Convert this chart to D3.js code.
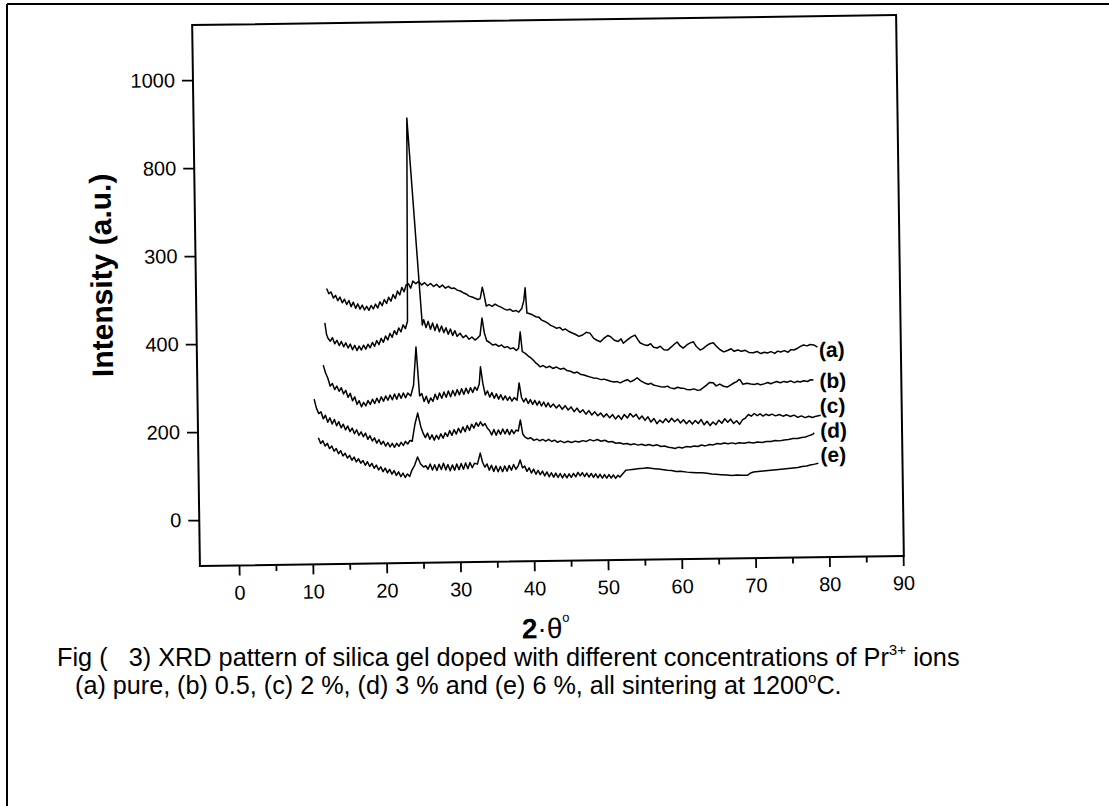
<!DOCTYPE html>
<html><head><meta charset="utf-8">
<script src="https://cdn.jsdelivr.net/npm/d3@7"></script>
<style>body{margin:0;background:#fff}svg{display:block}</style>
</head><body>
<svg id="chart" width="1109" height="806"></svg>
<script>
// ---------- data ----------
const xMajorTicks = [0,10,20,30,40,50,60,70,80,90];
const xMinorTicks = [5,15,25,35,45,55,65,75,85];
const yTickValues = [0,200,400,600,800,1000];
const yTickLabels = ["0","200","400","300","800","1000"];
const seriesNames = ["(a)","(b)","(c)","(d)","(e)"];

const seriesA = [[12.4,522],[12.7,510],[13.0,514],[13.3,500],[13.6,506],[13.9,494],[14.2,502],[14.5,489],[14.8,497],[15.1,485],[15.4,494],[15.7,480],[16.0,490],[16.3,476],[16.6,486],[16.9,474],[17.2,483],[17.5,472],[17.8,480],[18.1,471],[18.4,482],[18.7,474],[19.0,485],[19.3,476],[19.6,490],[19.9,481],[20.2,495],[20.5,486],[20.8,500],[21.1,491],[21.4,506],[21.7,497],[22.0,514],[22.3,505],[22.6,522],[22.9,512],[23.2,528],[23.5,530],[23.8,520],[24.1,536],[24.5,530],[24.9,535],[25.3,527],[25.7,532],[26.1,525],[26.5,530],[26.9,523],[27.3,528],[27.7,521],[28.1,526],[28.5,519],[28.9,523],[29.3,518],[29.7,519],[30.1,514],[30.5,512],[30.9,508],[31.3,505],[31.7,500],[32.1,498],[32.5,495],[32.9,492],[33.2,494],[33.5,520],[33.7,505],[34.0,477],[34.4,480],[34.8,476],[35.2,481],[35.6,477],[36.0,474],[36.4,470],[36.8,467],[37.2,469],[37.6,464],[38.0,466],[38.4,462],[38.8,470],[39.1,488],[39.3,517],[39.5,460],[39.9,458],[40.3,455],[40.7,451],[41.1,450],[41.5,443],[41.9,440],[42.3,436],[42.7,431],[43.1,428],[43.5,424],[43.9,426],[44.3,420],[44.7,422],[45.1,417],[45.6,413],[46.0,410],[46.5,405],[47.0,408],[47.5,414],[48.0,412],[48.5,400],[49.0,395],[49.4,392],[49.9,400],[50.4,406],[50.8,403],[51.3,395],[51.8,392],[52.2,398],[52.5,388],[53.0,395],[53.6,402],[54.1,406],[54.5,395],[54.8,388],[55.3,384],[55.8,382],[56.2,386],[56.6,378],[57.1,376],[57.5,380],[58.0,372],[58.5,371],[59.0,378],[59.4,384],[59.8,389],[60.2,380],[60.6,375],[61.1,382],[61.5,386],[62.0,389],[62.4,378],[62.9,370],[63.3,373],[63.8,380],[64.2,384],[64.7,386],[65.1,378],[65.6,370],[66.1,365],[66.6,368],[67.1,372],[67.5,366],[68.0,369],[68.5,366],[69.0,368],[69.5,363],[70.1,362],[70.6,365],[71.1,360],[71.6,363],[72.0,361],[72.5,364],[73.0,360],[73.4,365],[73.8,363],[74.3,366],[74.8,362],[75.2,368],[75.6,367],[76.1,371],[76.5,375],[76.9,378],[77.4,376],[77.8,379],[78.3,378],[78.8,373]];

const seriesB = [[12.1,444],[12.3,418],[12.5,409],[12.8,402],[13.1,410],[13.4,396],[13.7,404],[14.0,392],[14.3,401],[14.6,389],[14.9,398],[15.2,386],[15.5,395],[15.8,382],[16.1,392],[16.4,380],[16.7,390],[17.0,381],[17.3,392],[17.6,383],[17.9,394],[18.2,386],[18.5,398],[18.8,389],[19.1,402],[19.4,393],[19.7,407],[20.0,398],[20.3,412],[20.6,403],[20.9,418],[21.2,409],[21.5,424],[21.8,415],[22.1,430],[22.4,421],[22.7,437],[23.0,428],[23.3,445],[23.6,907],[25.3,436],[25.5,448],[25.8,430],[26.1,444],[26.4,426],[26.7,440],[27.0,423],[27.3,437],[27.6,420],[27.9,433],[28.2,418],[28.5,429],[28.8,414],[29.1,426],[29.4,411],[29.7,422],[30.0,409],[30.4,416],[30.8,406],[31.2,411],[31.6,402],[32.0,407],[32.4,400],[32.8,405],[33.1,410],[33.4,450],[33.7,415],[34.0,398],[34.4,394],[34.8,388],[35.2,390],[35.6,385],[36.0,388],[36.4,382],[36.8,384],[37.2,379],[37.6,381],[38.0,375],[38.3,380],[38.55,417],[38.8,372],[39.2,368],[39.6,362],[40.0,357],[40.3,352],[40.6,346],[40.9,342],[41.2,337],[41.6,340],[42.0,335],[42.5,338],[42.9,333],[43.4,336],[43.9,331],[44.4,333],[44.8,328],[45.3,326],[45.8,322],[46.2,324],[46.6,319],[47.1,317],[47.6,314],[48.0,312],[48.4,310],[48.9,309],[49.4,306],[49.8,307],[50.2,305],[50.7,302],[51.2,300],[51.6,301],[52.0,298],[52.5,302],[53.0,305],[53.4,300],[53.9,304],[54.3,309],[54.8,302],[55.3,297],[55.8,294],[56.2,296],[56.5,292],[57.0,290],[57.5,288],[58.0,287],[58.4,289],[58.8,285],[59.3,283],[59.8,286],[60.2,284],[60.5,284],[61.0,281],[61.5,280],[62.0,282],[62.4,279],[62.8,279],[63.3,285],[63.7,290],[64.1,296],[64.6,295],[65.0,288],[65.5,292],[66.0,287],[66.5,285],[67.0,290],[67.4,294],[67.8,297],[68.1,302],[68.3,300],[68.6,291],[69.2,293],[69.7,291],[70.2,290],[70.6,292],[71.0,289],[71.5,291],[72.0,294],[72.4,291],[72.7,293],[73.2,296],[73.7,293],[74.2,296],[74.6,294],[75.1,297],[75.6,293],[76.0,296],[76.4,294],[76.9,297],[77.4,295],[77.8,299],[78.2,298]];

const seriesC = [[11.8,348],[12.1,330],[12.4,318],[12.7,300],[13.0,306],[13.3,292],[13.6,300],[13.9,288],[14.2,296],[14.5,282],[14.8,290],[15.1,274],[15.4,283],[15.7,266],[16.0,275],[16.3,258],[16.6,266],[16.9,252],[17.2,262],[17.5,254],[17.8,266],[18.1,257],[18.4,269],[18.7,259],[19.0,271],[19.3,261],[19.6,274],[19.9,264],[20.2,276],[20.5,266],[20.8,278],[21.1,267],[21.4,280],[21.7,268],[22.0,281],[22.3,270],[22.6,282],[22.9,271],[23.2,282],[23.6,275],[24.0,300],[24.4,386],[24.8,275],[25.1,280],[25.4,262],[25.7,274],[26.0,258],[26.3,270],[26.6,262],[26.9,278],[27.2,266],[27.5,281],[27.8,269],[28.1,283],[28.4,271],[28.7,285],[29.0,272],[29.3,286],[29.6,274],[29.9,288],[30.2,276],[30.5,290],[30.8,277],[31.1,291],[31.4,279],[31.7,292],[32.0,281],[32.3,293],[32.6,286],[32.9,300],[33.1,339],[33.4,300],[33.7,275],[34.0,284],[34.3,270],[34.6,280],[34.9,267],[35.2,277],[35.5,265],[35.8,275],[36.1,263],[36.4,272],[36.7,262],[37.0,270],[37.3,260],[37.6,268],[38.0,262],[38.3,301],[38.6,268],[38.9,258],[39.2,266],[39.5,254],[39.8,263],[40.1,252],[40.4,261],[40.7,250],[41.0,259],[41.3,248],[41.6,257],[41.9,246],[42.2,255],[42.5,245],[42.9,252],[43.3,243],[43.7,250],[44.1,240],[44.5,248],[44.9,238],[45.3,245],[45.7,234],[46.1,242],[46.5,232],[46.9,238],[47.3,228],[47.7,236],[48.1,226],[48.5,233],[48.9,224],[49.3,230],[49.7,221],[50.1,228],[50.5,219],[50.9,226],[51.3,216],[51.7,224],[52.1,215],[52.5,226],[52.9,218],[53.3,228],[53.7,220],[54.1,226],[54.5,215],[54.9,222],[55.3,212],[55.7,220],[56.1,208],[56.5,216],[56.9,204],[57.3,212],[57.7,206],[58.1,215],[58.5,207],[58.9,216],[59.3,208],[59.7,214],[60.1,205],[60.5,212],[60.9,203],[61.3,210],[61.7,202],[62.1,210],[62.5,203],[62.9,212],[63.3,200],[63.7,208],[64.1,198],[64.5,206],[64.9,200],[65.3,210],[65.7,203],[66.1,213],[66.5,205],[66.9,212],[67.3,202],[67.7,208],[68.1,200],[68.5,210],[68.9,214],[69.3,222],[69.7,218],[70.1,224],[70.5,219],[70.9,223],[71.3,218],[71.7,222],[72.1,219],[72.5,222],[73.0,218],[73.5,221],[74.0,217],[74.5,220],[75.0,216],[75.5,219],[76.0,214],[76.5,217],[77.0,213],[77.5,216],[78.0,213],[78.5,216],[79.1,218]];

const seriesD = [[10.5,271],[10.8,250],[11.1,238],[11.4,242],[11.7,226],[12.0,234],[12.3,218],[12.6,228],[12.9,214],[13.2,224],[13.5,210],[13.8,219],[14.1,205],[14.4,213],[14.7,200],[15.0,209],[15.3,196],[15.6,204],[15.9,191],[16.2,200],[16.5,187],[16.8,195],[17.1,184],[17.4,192],[17.7,178],[18.0,186],[18.3,174],[18.6,181],[18.9,169],[19.2,177],[19.5,166],[19.8,173],[20.1,162],[20.4,170],[20.7,160],[21.0,168],[21.3,159],[21.6,168],[21.9,161],[22.2,170],[22.5,163],[22.8,172],[23.1,166],[23.4,174],[23.7,172],[24.1,210],[24.5,236],[24.9,205],[25.2,190],[25.5,180],[25.8,190],[26.1,176],[26.4,186],[26.7,174],[27.0,185],[27.3,176],[27.6,188],[27.9,178],[28.2,190],[28.5,182],[28.8,195],[29.1,184],[29.4,197],[29.7,187],[30.0,200],[30.3,190],[30.6,203],[30.9,192],[31.2,206],[31.5,195],[31.8,209],[32.1,200],[32.4,212],[32.7,204],[33.0,214],[33.3,205],[33.6,210],[33.9,200],[34.2,194],[34.5,184],[34.8,196],[35.1,183],[35.4,195],[35.7,185],[36.0,197],[36.3,186],[36.6,196],[36.9,184],[37.2,195],[37.5,186],[37.8,194],[38.1,192],[38.4,217],[38.7,185],[39.0,178],[39.4,174],[39.8,176],[40.2,170],[40.6,173],[41.0,169],[41.4,172],[41.8,168],[42.2,172],[42.6,167],[43.0,170],[43.4,165],[43.8,168],[44.3,164],[44.8,167],[45.3,164],[45.8,167],[46.3,165],[46.8,168],[47.3,166],[47.8,170],[48.3,167],[48.8,170],[49.3,166],[49.8,168],[50.3,164],[50.8,165],[51.3,161],[51.8,162],[52.3,159],[52.8,160],[53.3,157],[53.8,159],[54.3,156],[54.8,158],[55.3,155],[55.8,157],[56.3,154],[56.9,156],[57.4,152],[57.9,153],[58.4,150],[58.9,149],[59.3,147],[59.8,150],[60.3,148],[60.8,151],[61.4,150],[61.9,152],[62.4,151],[62.9,154],[63.4,152],[64.0,155],[64.5,154],[65.0,157],[65.5,156],[66.0,158],[66.5,156],[67.0,158],[67.5,156],[68.0,158],[68.7,157],[69.3,159],[69.9,157],[70.5,159],[71.1,158],[71.7,160],[72.3,160],[72.9,162],[73.5,161],[74.1,163],[74.7,164],[75.3,166],[75.9,166],[76.5,168],[77.0,169],[77.5,172],[78.0,175],[78.2,178]];

const seriesE = [[11.0,183],[11.3,170],[11.6,176],[11.9,164],[12.2,170],[12.5,158],[12.8,164],[13.1,152],[13.4,158],[13.7,146],[14.0,153],[14.3,141],[14.6,147],[14.9,136],[15.2,142],[15.5,131],[15.8,138],[16.1,127],[16.4,134],[16.7,124],[17.0,130],[17.3,119],[17.6,127],[17.9,116],[18.2,123],[18.5,112],[18.8,119],[19.1,108],[19.4,115],[19.7,104],[20.0,112],[20.3,101],[20.6,109],[20.9,98],[21.2,106],[21.5,95],[21.8,103],[22.1,92],[22.4,100],[22.7,90],[23.0,98],[23.3,92],[23.6,106],[24.0,118],[24.4,136],[24.8,120],[25.2,113],[25.5,116],[25.8,108],[26.1,120],[26.4,106],[26.7,118],[27.0,105],[27.3,119],[27.6,107],[27.9,121],[28.2,106],[28.5,118],[28.8,104],[29.1,117],[29.4,105],[29.7,119],[30.0,106],[30.3,120],[30.6,107],[30.9,121],[31.2,108],[31.5,122],[31.8,110],[32.1,120],[32.5,118],[32.9,143],[33.2,122],[33.5,111],[33.8,118],[34.1,104],[34.4,115],[34.7,101],[35.0,113],[35.3,100],[35.6,112],[35.9,100],[36.2,113],[36.5,101],[36.8,114],[37.1,103],[37.4,116],[37.7,105],[38.0,112],[38.3,126],[38.6,108],[38.9,112],[39.2,100],[39.5,108],[39.8,96],[40.1,105],[40.4,93],[40.7,102],[41.0,92],[41.3,100],[41.6,89],[41.9,98],[42.2,87],[42.5,96],[42.8,86],[43.1,95],[43.4,85],[43.7,94],[44.0,84],[44.3,93],[44.6,84],[44.9,93],[45.2,85],[45.5,94],[45.8,86],[46.1,96],[46.4,88],[46.7,95],[47.0,86],[47.3,94],[47.6,85],[47.9,93],[48.2,84],[48.5,92],[48.8,83],[49.1,91],[49.4,82],[49.7,90],[50.0,82],[50.3,90],[50.6,82],[50.9,89],[51.2,81],[51.5,88],[51.8,84],[52.2,92],[52.6,99],[53.0,100],[53.5,101],[54.0,102],[54.5,103],[55.0,103],[55.5,104],[56.0,103],[56.5,102],[57.0,101],[57.5,100],[58.2,98],[58.8,97],[59.4,95],[60.0,95],[60.9,93],[61.5,92],[62.2,91],[62.9,91],[63.6,90],[64.2,88],[64.8,87],[65.5,86],[66.3,85],[67.0,84],[67.6,85],[68.3,84],[69.1,84],[69.5,89],[69.9,91],[70.5,92],[71.2,93],[71.9,94],[72.6,95],[73.3,96],[74.0,97],[74.6,98],[75.3,99],[75.9,100],[76.5,102],[77.1,103],[77.6,105],[78.2,107],[78.7,109]];

const allSeries = [seriesA, seriesB, seriesC, seriesD, seriesE];

// ---------- drawing ----------
const svg = d3.select("#chart");
const FONT = "'Liberation Sans', Arial, Helvetica, sans-serif";

// scanned page frame (top and left edges)
svg.append("line").attr("x1",7).attr("y1",4).attr("x2",1109).attr("y2",4).attr("stroke","#000").attr("stroke-width",2);
svg.append("line").attr("x1",7).attr("y1",4).attr("x2",7).attr("y2",806).attr("stroke","#000").attr("stroke-width",2);

const pL = 196, pR = 900, pT = 20, pB = 561;
const x = d3.scaleLinear().domain([-5.3, 90.1]).range([pL, pR]);
const y = d3.scaleLinear().domain([-104.5, 1125]).range([pB, pT]);

// whole figure is slightly tilted in the scan
const g = svg.append("g").attr("transform", "rotate(-0.82, 548, 290)");

// axes
const xMajor = g.append("g").attr("transform", `translate(0,${pB})`)
  .call(d3.axisBottom(x).tickValues(xMajorTicks).tickSize(10).tickPadding(10));
const xMinor = g.append("g").attr("transform", `translate(0,${pB})`)
  .call(d3.axisBottom(x).tickValues(xMinorTicks).tickSize(6).tickFormat(""));
const yAx = g.append("g").attr("transform", `translate(${pL},0)`)
  .call(d3.axisLeft(y).tickValues(yTickValues).tickFormat((d,i)=>yTickLabels[i]).tickSize(11).tickPadding(7));
[xMajor, xMinor, yAx].forEach(a => {
  a.select(".domain").remove();
  a.selectAll(".tick line").attr("stroke","#000").attr("stroke-width",1.8);
  a.selectAll(".tick text").attr("fill","#000").style("font-family",FONT).style("font-size","20px");
});

// frame
g.append("rect").attr("x",pL).attr("y",pT).attr("width",pR-pL).attr("height",pB-pT)
  .attr("fill","none").attr("stroke","#000").attr("stroke-width",2);

// series
const line = d3.line().x(d=>x(d[0])).y(d=>y(d[1]));
g.selectAll("path.series").data(allSeries).enter().append("path")
  .attr("class","series").attr("d", line)
  .attr("fill","none").attr("stroke","#000").attr("stroke-width",1.5).attr("stroke-linejoin","round");

// series labels
const labelOffsets = [10, 8, -2, 5, -1];
const xLabel = x(79);
g.selectAll("text.slabel").data(allSeries).enter().append("text")
  .attr("class","slabel")
  .attr("x", xLabel)
  .attr("y", (s,i)=> y(s[s.length-1][1]) + labelOffsets[i])
  .style("font-family",FONT).style("font-size","21px").style("font-weight","bold")
  .text((s,i)=>seriesNames[i]);

// axis titles
g.append("text").attr("transform","translate(112,269) rotate(-90)")
  .attr("text-anchor","middle")
  .style("font-family",FONT).style("font-size","30px").style("font-weight","bold")
  .text("Intensity (a.u.)");

const xt = g.append("text").attr("x",517).attr("y",638).style("font-family",FONT).style("font-size","28px");
xt.append("tspan").style("font-weight","bold").text("2");
xt.append("tspan").text("·θ");
xt.append("tspan").attr("dy",-16).style("font-size","13px").text("o");

// caption
function caption(parts, x0, yb, targetW){
  const t = svg.append("text").attr("x",0).attr("y",0)
    .style("font-family",FONT).style("font-size","25px").style("white-space","pre");
  parts.forEach(p => {
    const ts = t.append("tspan").text(p.t);
    if (p.sup) ts.attr("dy",-11).style("font-size","15px");
    if (p.back) ts.attr("dy",11);
  });
  const w = t.node().getBBox().width;
  t.attr("transform",`translate(${x0},${yb}) scale(${targetW/w},1)`);
}
caption([{t:"Fig (   3) XRD pattern of silica gel doped with different concentrations of Pr"},{t:"3+",sup:true},{t:" ions",back:true}], 57, 666, 903);
caption([{t:"(a) pure, (b) 0.5, (c) 2 %, (d) 3 % and (e) 6 %, all sintering at 1200"},{t:"o",sup:true},{t:"C.",back:true}], 75, 694, 767);
</script>
</body></html>
